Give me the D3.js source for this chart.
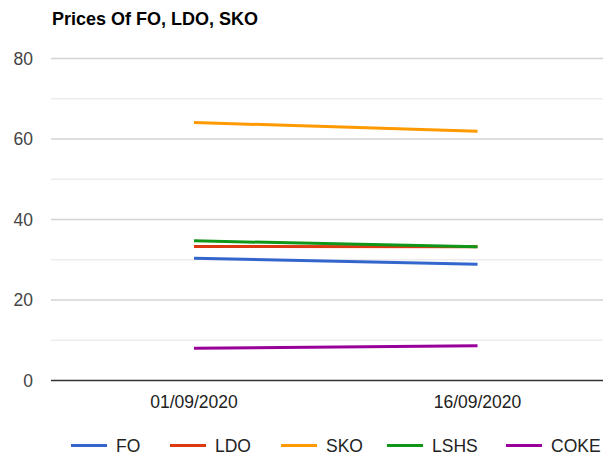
<!DOCTYPE html>
<html><head><meta charset="utf-8">
<script src="https://cdn.jsdelivr.net/npm/d3@7"></script>
<style>body{margin:0;background:#fff;overflow:hidden}svg{display:block}</style>
</head><body>
<script>
const title = "Prices Of FO, LDO, SKO";
const categories = ["01/09/2020", "16/09/2020"];
const seriesNames = ["FO", "LDO", "SKO", "LSHS", "COKE"];
const colors = ["#3366cc", "#dc3912", "#ff9900", "#109618", "#990099"];
const FO = [30.4, 28.9];
const LDO = [33.3, 33.2];
const SKO = [64.1, 61.9];
const LSHS = [34.7, 33.2];
const COKE = [8.0, 8.65];
const yTicks = [0, 20, 40, 60, 80];
const yMinor = [10, 30, 50, 70];
const seriesValues = [FO, LDO, SKO, LSHS, COKE];

const W = 603, H = 459;
const font = "Arial, 'Liberation Sans', sans-serif";
const svg = d3.select("body").append("svg").attr("width", W).attr("height", H);

const x = d3.scalePoint().domain(categories).range([52.25, 619.25]).padding(0.5);
const y = d3.scaleLinear().domain([0, 80]).range([380.5, 58.5]);

svg.append("text").attr("x", 52).attr("y", 25).attr("font-family", font)
  .attr("font-size", 18).attr("font-weight", "bold").attr("fill", "#000").text(title);

const g = svg.append("g");
g.selectAll("line.minor").data(yMinor).join("line").attr("class", "minor")
  .attr("x1", 51).attr("x2", W).attr("y1", d => y(d)).attr("y2", d => y(d))
  .attr("stroke", "#ececec").attr("stroke-width", 1.5);
g.selectAll("line.major").data(yTicks.filter(d => d !== 0)).join("line").attr("class", "major")
  .attr("x1", 51).attr("x2", W).attr("y1", d => y(d)).attr("y2", d => y(d))
  .attr("stroke", "#d3d3d3").attr("stroke-width", 1.5);

g.selectAll("text.ylab").data(yTicks).join("text").attr("class", "ylab")
  .attr("x", 33).attr("y", d => y(d)).attr("dy", "0.35em").attr("text-anchor", "end")
  .attr("font-family", font).attr("font-size", 17.5).attr("fill", "#444").text(d => d);

const line = d3.line().x((d, i) => x(categories[i])).y(d => y(d));
seriesValues.forEach((vals, i) => {
  g.append("path").datum(vals).attr("d", line).attr("fill", "none")
    .attr("stroke", colors[i]).attr("stroke-width", 3);
});

g.append("line").attr("x1", 51).attr("x2", W).attr("y1", y(0)).attr("y2", y(0))
  .attr("stroke", "#333").attr("stroke-width", 1.5);

g.selectAll("text.xlab").data(categories).join("text").attr("class", "xlab")
  .attr("x", d => x(d)).attr("y", 407.5).attr("text-anchor", "middle")
  .attr("font-family", font).attr("font-size", 17.5).attr("fill", "#222").text(d => d);

const legendX = [71, 170, 281, 387, 506];
const leg = svg.append("g");
seriesNames.forEach((name, i) => {
  leg.append("line").attr("x1", legendX[i]).attr("x2", legendX[i] + 36)
    .attr("y1", 445.5).attr("y2", 445.5).attr("stroke", colors[i]).attr("stroke-width", 3);
  leg.append("text").attr("x", legendX[i] + 45).attr("y", 452)
    .attr("font-family", font).attr("font-size", 17.5).attr("fill", "#222").text(name);
});
</script>
</body></html>
